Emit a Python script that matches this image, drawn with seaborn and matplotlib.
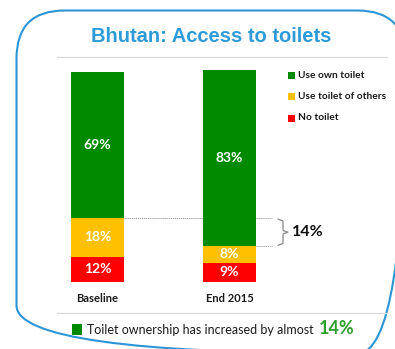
import matplotlib
matplotlib.use("Agg")
import matplotlib.pyplot as plt
import seaborn as sns
import numpy as np
from matplotlib.patches import FancyBboxPatch, Rectangle

sns.set_theme(style="white")
plt.rcParams["font.family"] = ["Lato", "DejaVu Sans"]

# Survey data (% of households)
periods = ["Baseline", "End 2015"]
own_toilet = [69, 83]
others_toilet = [18, 8]
no_toilet = [12, 9]
series_names = ["Use own toilet", "Use toilet of others", "No toilet"]
series_colors = ["#008A00", "#FFC000", "#FF0000"]

title = "Bhutan: Access to toilets"
footnote = "Toilet ownership has increased by almost"
increase = own_toilet[1] - own_toilet[0]

W, H = 395, 349
fig = plt.figure(figsize=(W / 100, H / 100), dpi=100)
fig.patch.set_facecolor("white")

# decoration layer in pixel coordinates
deco = fig.add_axes([0, 0, 1, 1])
deco.set_xlim(0, W)
deco.set_ylim(H, 0)
deco.axis("off")

frame = FancyBboxPatch((16.5, 10.5), 389, 343,
                       boxstyle="round,pad=0,rounding_size=48",
                       fill=False, edgecolor="#2B95D6", linewidth=1.5,
                       clip_on=False)
deco.add_patch(frame)
deco.text(211, 37, title, ha="center", va="center", fontsize=14.5,
          fontweight="bold", color="#2E9BD8", family="Liberation Sans")
deco.plot([57, 387], [57, 57], color="#D9D9D9", lw=0.9)
deco.plot([57, 387], [313, 313], color="#D9D9D9", lw=0.9)

# legend
for i, (name, col) in enumerate(zip(series_names, series_colors)):
    yc = 75 + i * 21.5
    deco.add_patch(Rectangle((288, yc - 3.5), 7, 7, color=col, lw=0))
    deco.text(297.5, yc, name, ha="left", va="center", fontsize=7.3,
              fontweight="bold", color="#1a1a1a")

# footnote
deco.add_patch(Rectangle((72, 324), 10, 11, color=series_colors[0], lw=0))
deco.text(87, 330, footnote, ha="left", va="center", fontsize=9,
          color="#1a1a1a")
deco.text(319, 328, f"{increase}%", ha="left", va="center", fontsize=13,
          fontweight="bold", color="#2FA02F")

# stacked bars
ax = fig.add_axes([57 / W, (H - 282) / H, 330 / W, 212 / H])
ax.patch.set_alpha(0)
top_green = np.array(no_toilet) + np.array(others_toilet) + np.array(own_toilet)
top_yellow = np.array(no_toilet) + np.array(others_toilet)
top_red = np.array(no_toilet)
bw = 53 / 132
for tops, col in zip([top_green, top_yellow, top_red], series_colors):
    sns.barplot(x=periods, y=tops, color=col, saturation=1, width=bw,
                ax=ax, zorder=2, linewidth=0, edgecolor=col)
ax.set_xlim(-(97.5 - 57) / 132, (387 - 97.5) / 132)
ax.set_ylim(0, 100)
ax.axis("off")

# segment value labels
for i in range(len(periods)):
    segs = [(no_toilet[i], 0), (others_toilet[i], no_toilet[i]),
            (own_toilet[i], no_toilet[i] + others_toilet[i])]
    for val, base in segs:
        ax.text(i, base + val / 2, f"{val}%", ha="center", va="center",
                fontsize=10, fontweight="bold", color="white", zorder=3)
    ax.text(i, -8, periods[i], ha="center", va="center", fontsize=8,
            fontweight="bold", color="#1a1a1a", clip_on=False)

# bracket showing the change in ownership
x_r0 = 0 + bw / 2
x_r1 = 1 + bw / 2
x_end = x_r1 + 16 / 132
ax.plot([x_r0, x_end], [top_yellow[0], top_yellow[0]], color="#888888",
        lw=0.7, ls=(0, (1, 1)), zorder=1, clip_on=False)
ax.plot([x_r1, x_end], [top_yellow[1], top_yellow[1]], color="#888888",
        lw=0.7, ls=(0, (1, 1)), zorder=1, clip_on=False)
bx = x_r1 + 27 / 132
ymid = (top_yellow[0] + top_yellow[1]) / 2
ax.plot([x_end + 6 / 132, bx, bx, bx + 5 / 132, bx, bx, x_end + 6 / 132],
        [top_yellow[0] - 0.3, top_yellow[0] - 1.2, ymid + 0.8, ymid,
         ymid - 0.8, top_yellow[1] + 1.2, top_yellow[1] + 0.3],
        color="#888888", lw=0.9, clip_on=False)
ax.text(bx + 9 / 132, ymid, f"{increase}%", ha="left", va="center",
        fontsize=11.5, fontweight="bold", color="#111111", clip_on=False)

fig.savefig("out.png", dpi=100, facecolor="white")
